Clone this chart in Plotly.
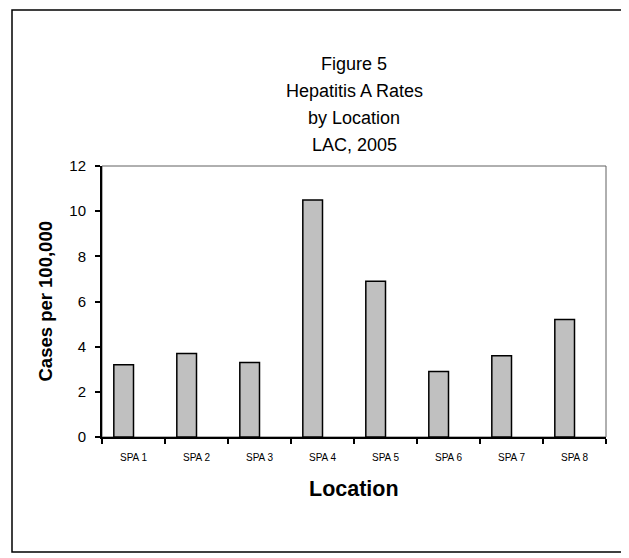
import plotly.graph_objects as go

categories = ["SPA 1", "SPA 2", "SPA 3", "SPA 4", "SPA 5", "SPA 6", "SPA 7", "SPA 8"]
rates = [3.2, 3.7, 3.3, 10.5, 6.9, 2.9, 3.6, 5.2]
title_lines = ["Figure 5", "Hepatitis A Rates", "by Location", "LAC, 2005"]
y_ticks = [0, 2, 4, 6, 8, 10, 12]

FONT = "Liberation Sans, Arial, sans-serif"

# page body has an 8px margin; work in screen coordinates and shift
OFF = 8
W, H = 629 - OFF, 558 - OFF
L, R, T, B = 102 - OFF, 23, 166 - OFF, 121
pw, ph = W - L - R, H - T - B

def px(x):
    return (x - OFF - L) / pw

def py(y):
    return (H - B - (y - OFF)) / ph

fig = go.Figure()
fig.add_trace(go.Bar(
    x=categories, y=rates,
    width=0.3125, offset=-0.3125,
    marker=dict(color="#C0C0C0", line=dict(color="black", width=1.5)),
))

fig.update_layout(
    width=W, height=H,
    margin=dict(l=L, r=R, t=T, b=B, autoexpand=False),
    paper_bgcolor="white", plot_bgcolor="white",
    showlegend=False,
    font=dict(family=FONT, color="black"),
    xaxis=dict(
        type="category", range=[-0.5, 7.5],
        showline=True, linecolor="black", linewidth=2,
        ticks="outside", tickson="boundaries", ticklen=5, tickwidth=1.5, tickcolor="black",
        tickfont=dict(size=10, family=FONT), ticklabelstandoff=10,
        showgrid=False, zeroline=False, fixedrange=True,
    ),
    yaxis=dict(
        range=[0, 12], tickvals=y_ticks,
        showline=True, linecolor="black", linewidth=2,
        ticks="outside", ticklen=5, tickwidth=1.5, tickcolor="black",
        tickfont=dict(size=15, family=FONT), ticklabelstandoff=6,
        showgrid=False, zeroline=False, fixedrange=True,
    ),
    shapes=[
        dict(type="rect", xref="paper", yref="paper", x0=0, x1=1, y0=0, y1=1,
             line=dict(color="#606060", width=1), layer="below"),
        dict(type="rect", xref="paper", yref="paper",
             x0=px(12), x1=px(624), y0=py(552), y1=py(10),
             line=dict(color="black", width=1.5), layer="below"),
    ],
)

annotations = []
for i, line in enumerate(title_lines):
    annotations.append(dict(
        text=line, xref="paper", yref="paper", x=px(354), y=py(64 + 27 * i),
        showarrow=False, xanchor="center", yanchor="middle",
        font=dict(size=18, family=FONT),
    ))
annotations.append(dict(
    text="<b>Cases per 100,000</b>", xref="paper", yref="paper",
    x=px(45), y=0.5, textangle=-90, showarrow=False,
    xanchor="center", yanchor="middle", font=dict(size=18.5, family=FONT),
))
annotations.append(dict(
    text="<b>Location</b>", xref="paper", yref="paper",
    x=0.5, y=py(489), showarrow=False,
    xanchor="center", yanchor="middle", font=dict(size=21.5, family=FONT),
))
fig.update_layout(annotations=annotations)

fig.write_html("out.html")
